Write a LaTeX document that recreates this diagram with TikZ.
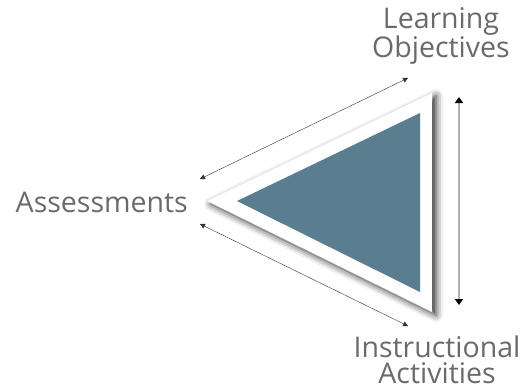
\documentclass[tikz,border=0pt]{standalone}
\usepackage{fontspec}
\setmainfont{Open Sans}
\usetikzlibrary{arrows.meta,shadows.blur}
\definecolor{slate}{HTML}{5A7E90}
\definecolor{labelgray}{HTML}{6A6A6A}

\begin{document}
\begin{tikzpicture}[x=1pt,y=-1pt,
  lbl/.style={text=labelgray,font=\fontsize{28.5}{26}\selectfont,align=center,inner sep=0pt},
  link/.style={{Triangle[width=5pt,length=5pt]}-{Triangle[width=5pt,length=5pt]},thin,black!80}]

  \useasboundingbox (0,0) rectangle (521,391);

  % the triangle
  \path[fill=white,blur shadow={shadow xshift=4pt,shadow yshift=-3pt,shadow blur radius=7pt,shadow opacity=85}]
    (207,201) -- (432,93) -- (432,312) -- cycle;
  \fill[slate] (237,201) -- (420,113) -- (420,292) -- cycle;

  % labels
  \node[lbl] (obj) at (441,36) {Learning\\Objectives};
  \node[lbl,anchor=east] (assess) at (188,202) {Assessments};
  \node[lbl] (instr) at (437,360) {Instructional\\Activities};

  \coordinate (a1) at (200,179);
  \coordinate (o1) at (408,78);
  \coordinate (a2) at (200,224);
  \coordinate (i1) at (408,326);
  \coordinate (o2) at (459,97);
  \coordinate (i2) at (459,305);

  \draw[link] (a1) -- (o1);
  \draw[link] (a2) -- (i1);
  \draw[link,line width=2.5pt,black!30,
    {Triangle[width=8pt,length=6pt,black]}-{Triangle[width=8pt,length=6pt,black]}] (o2) -- (i2);

\end{tikzpicture}
\end{document}
